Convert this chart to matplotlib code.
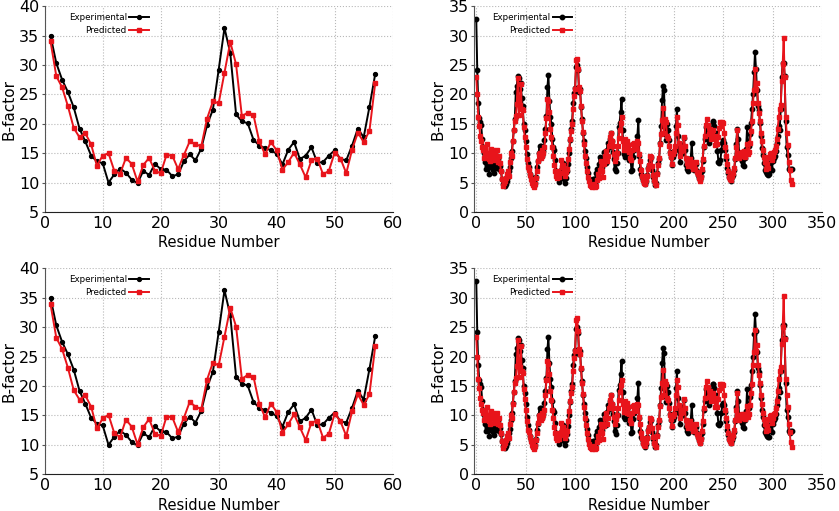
import numpy as np
import matplotlib
matplotlib.use('Agg')
import matplotlib.pyplot as plt

# small protein (57 residues)
res_small = list(range(1, 58))
exp_small = [35.0, 30.3, 27.5, 25.4, 22.8, 19.2, 17.0, 14.6, 13.6, 13.3,
             10.0, 11.4, 12.4, 11.7, 10.5, 9.9, 12.0, 11.3, 13.2, 12.3,
             12.2, 11.1, 11.4, 13.6, 14.8, 13.8, 15.8, 19.8, 22.4, 29.2,
             36.3, 32.0, 21.6, 20.4, 20.1, 17.3, 16.3, 15.9, 15.5, 14.9,
             13.1, 15.6, 16.9, 14.0, 14.6, 16.0, 13.4, 13.5, 14.6, 15.5,
             14.0, 13.8, 16.3, 19.2, 17.7, 22.9, 28.5]
pred_small_top = [34.0, 28.1, 26.2, 23.0, 19.3, 17.7, 18.4, 16.5, 12.9, 14.6,
                  15.0, 12.0, 11.5, 14.2, 13.2, 10.2, 13.0, 14.2, 12.0, 11.6,
                  14.7, 14.6, 12.3, 14.7, 17.0, 16.5, 16.2, 20.9, 23.8, 23.5,
                  28.7, 33.9, 30.1, 21.3, 21.9, 21.5, 17.0, 14.8, 16.9, 15.5,
                  12.2, 13.5, 15.1, 13.1, 10.9, 13.8, 14.1, 11.4, 12.0, 15.1,
                  14.1, 11.6, 15.6, 18.5, 16.9, 18.8, 27.0]
pred_small_bot = [33.9, 28.2, 26.3, 23.1, 19.3, 17.7, 18.4, 16.5, 12.8, 14.5,
                  15.1, 12.0, 11.3, 14.3, 13.1, 10.1, 13.0, 14.4, 11.9, 11.5,
                  14.8, 14.7, 12.2, 14.6, 17.3, 16.5, 16.1, 21.1, 24.0, 23.5,
                  28.4, 33.3, 30.1, 21.2, 21.9, 21.6, 17.0, 14.7, 17.0, 15.6,
                  12.1, 13.5, 15.2, 13.0, 10.8, 13.8, 14.1, 11.2, 11.9, 15.3,
                  14.0, 11.5, 15.7, 18.6, 16.8, 18.6, 26.8]

# large protein (residues 0..319)
res_large = list(range(0, 320))
exp_large = [32.8, 24.2, 18.6, 16.0, 15.3, 14.8, 12.5, 11.0, 10.0, 8.5,
             7.4, 7.8, 8.6, 6.5, 7.9, 7.6, 8.3, 7.2, 6.7, 8.1,
             7.5, 8.4, 9.0, 7.3, 7.8, 6.9, 5.6, 4.8, 5.2, 4.4,
             4.8, 5.3, 6.0, 7.0, 7.7, 9.2, 10.4, 12.1, 14.0, 15.9,
             20.4, 21.4, 23.2, 22.8, 21.0, 22.0, 19.4, 18.0, 15.0, 13.9,
             12.0, 9.8, 8.4, 7.6, 6.5, 5.9, 5.3, 4.7, 4.5, 5.0,
             6.0, 7.6, 8.6, 10.0, 11.3, 11.2, 10.1, 9.5, 10.3, 12.2,
             14.2, 16.3, 21.3, 23.3, 18.9, 16.2, 14.9, 12.5, 11.0, 10.6,
             8.8, 7.0, 6.2, 5.8, 5.1, 5.8, 7.2, 6.3, 8.4, 5.6,
             4.9, 5.8, 6.9, 8.2, 10.0, 12.3, 14.1, 15.4, 18.6, 20.2,
             21.1, 24.7, 25.0, 24.1, 20.4, 21.0, 17.9, 15.8, 13.5, 12.0,
             10.4, 9.2, 7.7, 6.6, 5.6, 5.4, 5.5, 5.5, 5.6, 5.7,
             5.0, 6.6, 7.4, 6.4, 8.1, 9.3, 9.0, 7.6, 8.6, 10.2,
             9.1, 8.4, 10.6, 11.8, 11.1, 12.4, 13.4, 12.0, 10.2, 9.0,
             7.3, 6.9, 8.4, 10.1, 14.4, 15.2, 17.0, 19.2, 14.0, 9.8,
             9.4, 10.3, 11.8, 10.9, 9.9, 8.8, 9.3, 7.0, 7.2, 9.4,
             10.5, 11.0, 11.4, 13.0, 15.6, 9.5, 7.3, 6.4, 6.0, 5.4,
             5.0, 4.7, 5.2, 6.3, 7.5, 8.0, 8.9, 9.3, 7.2, 6.0,
             5.3, 4.6, 4.9, 6.6, 8.4, 9.1, 11.8, 14.6, 19.0, 21.5,
             20.7, 13.3, 12.3, 15.0, 14.0, 12.2, 10.2, 9.3, 8.0, 9.3,
             9.8, 10.6, 14.7, 17.5, 13.0, 10.5, 8.5, 9.9, 11.4, 10.2,
             12.6, 10.5, 8.0, 7.3, 7.0, 8.6, 8.1, 9.2, 11.7, 8.4,
             7.2, 7.3, 8.1, 7.0, 6.3, 5.8, 5.4, 6.2, 7.0, 8.6,
             11.0, 12.5, 14.5, 13.8, 12.5, 11.8, 13.5, 14.2, 13.0, 15.3,
             15.4, 14.6, 13.2, 13.4, 10.4, 8.5, 8.3, 8.8, 10.5, 11.8,
             12.2, 11.7, 10.6, 9.0, 7.5, 6.7, 6.0, 5.6, 5.3, 5.9,
             6.3, 7.2, 9.1, 11.5, 14.2, 12.5, 10.0, 9.2, 9.8, 8.7,
             8.0, 7.8, 9.2, 10.8, 14.5, 10.2, 11.3, 13.2, 15.2, 17.6,
             20.0, 23.8, 27.2, 24.3, 20.8, 18.0, 17.4, 15.1, 13.0, 10.9,
             9.7, 8.4, 7.2, 6.8, 6.5, 6.3, 6.4, 7.7, 8.5, 7.2,
             8.6, 9.2, 9.6, 10.3, 11.7, 13.0, 14.6, 14.0, 17.5, 22.9,
             25.4, 25.3, 23.2, 15.5, 11.0, 9.7, 7.4, 7.1, 7.3, 7.4]
pred_large_top = [22.9, 20.0, 16.2, 14.6, 13.0, 12.0, 11.0, 10.5, 9.2, 11.0,
                  9.8, 11.5, 10.0, 9.0, 8.6, 10.8, 9.5, 10.5, 8.8, 10.2,
                  9.4, 10.5, 8.5, 9.6, 8.3, 7.0, 5.6, 4.4, 5.0, 5.3,
                  5.8, 6.5, 7.0, 6.2, 8.5, 10.0, 9.5, 12.0, 14.0, 15.5,
                  16.3, 18.4, 22.8, 16.5, 18.2, 21.8, 17.6, 17.3, 14.5, 12.8,
                  11.0, 9.0, 7.6, 7.2, 6.3, 5.6, 5.0, 4.6, 4.3, 4.8,
                  5.8, 7.0, 8.7, 9.9, 10.0, 9.2, 10.5, 9.6, 10.1, 11.0,
                  13.5, 16.0, 19.2, 18.8, 17.0, 14.2, 12.7, 11.0, 9.6, 8.0,
                  7.0, 6.2, 5.8, 7.0, 6.0, 6.6, 8.8, 7.6, 8.0, 6.8,
                  6.2, 6.8, 7.4, 9.0, 10.8, 12.4, 13.8, 14.9, 17.6, 19.8,
                  21.0, 25.8, 26.0, 24.3, 21.3, 20.5, 18.0, 15.5, 13.6, 11.5,
                  9.5, 8.3, 7.0, 6.0, 5.2, 4.6, 4.5, 4.3, 4.4, 4.8,
                  4.3, 4.5, 5.5, 6.5, 5.8, 7.2, 8.6, 7.0, 6.0, 8.2,
                  9.5, 10.4, 8.6, 9.6, 11.3, 12.7, 13.4, 12.0, 11.2, 9.8,
                  8.6, 9.4, 10.0, 11.2, 12.6, 14.0, 15.2, 16.1, 12.0, 10.6,
                  12.5, 11.6, 10.5, 12.1, 11.4, 10.2, 9.2, 8.8, 10.5, 11.6,
                  11.8, 10.7, 11.3, 12.0, 11.8, 9.8, 8.6, 7.1, 6.2, 5.4,
                  5.0, 4.8, 5.5, 6.2, 7.4, 8.0, 9.5, 9.4, 7.8, 6.3,
                  5.4, 4.9, 4.6, 6.5, 8.0, 9.2, 11.6, 13.2, 15.6, 17.7,
                  13.5, 15.8, 15.3, 13.0, 12.6, 11.3, 10.1, 9.4, 8.2, 9.9,
                  10.3, 11.2, 13.5, 16.1, 14.8, 11.8, 9.6, 10.4, 11.0, 10.6,
                  12.8, 11.2, 9.2, 8.3, 7.8, 8.0, 9.0, 8.1, 8.5, 7.3,
                  8.0, 7.4, 8.5, 6.8, 6.4, 5.8, 5.3, 6.0, 7.3, 9.0,
                  11.2, 13.0, 14.8, 15.8, 14.8, 13.2, 14.2, 12.5, 13.6, 12.8,
                  13.9, 12.8, 11.4, 13.0, 11.5, 12.8, 14.3, 15.3, 14.6, 15.3,
                  15.2, 13.5, 11.0, 9.5, 8.2, 7.0, 6.0, 5.6, 5.4, 6.2,
                  6.6, 7.5, 9.2, 11.0, 13.9, 10.1, 9.2, 10.0, 9.5, 10.2,
                  9.6, 10.3, 9.4, 10.1, 11.6, 9.8, 10.2, 11.8, 13.8, 15.4,
                  18.6, 20.8, 24.4, 21.0, 22.0, 18.6, 16.8, 15.5, 13.5, 12.0,
                  10.5, 9.4, 8.5, 7.4, 8.2, 7.5, 9.4, 9.9, 10.0, 8.8,
                  9.5, 10.2, 10.5, 11.3, 12.5, 14.2, 16.2, 17.6, 18.2, 22.2,
                  25.1, 29.5, 23.0, 16.2, 13.5, 11.4, 8.5, 7.2, 5.5, 4.7]
# bottom-right prediction differs from top-right only at a few residues
pred_large_bot_changes = {0: 23.3, 101: 26.2, 102: 26.5, 282: 24.5, 311: 30.3}

pred_large_bot = list(pred_large_top)
for k, v in pred_large_bot_changes.items():
    pred_large_bot[k] = v

plt.rcParams['font.family'] = ['DejaVu Sans']

fig = plt.figure(figsize=(8.39, 5.11), dpi=100)

left_x, right_x, w = 0.0533, 0.5653, 0.4147
top_y, bot_y, h = 0.585, 0.0718, 0.403

# x0, y0, x, exp, pred, xlim, ylim, xstep, legend anchor x, marker size
panels = [
    (left_x, top_y, res_small, exp_small, pred_small_top, (0, 60), (5, 40), 10, 0.309, 2.8),
    (right_x, top_y, res_large, exp_large, pred_large_top, (-2, 350), (0, 35), 50, 0.291, 3.2),
    (left_x, bot_y, res_small, exp_small, pred_small_bot, (0, 60), (5, 40), 10, 0.309, 2.8),
    (right_x, bot_y, res_large, exp_large, pred_large_bot, (-2, 350), (0, 35), 50, 0.291, 3.2),
]

for x0, y0, xs, ex, pr, xl, yl, xstep, lx, ms in panels:
    ax = fig.add_axes([x0, y0, w, h])
    ax.plot(xs, ex, color='black', lw=1.4, marker='o', ms=ms, label='Experimental')
    ax.plot(xs, pr, color='#e8141b', lw=1.4, marker='s', ms=ms, label='Predicted')
    ax.set_xlim(*xl)
    ax.set_ylim(*yl)
    ax.set_xticks(np.arange(0, xl[1] + 1, xstep))
    ax.set_yticks(np.arange(yl[0], yl[1] + 1, 5))
    ax.grid(True, ls=':', color='#b8b8b8', lw=0.8)
    ax.set_axisbelow(True)
    for s in ['top', 'right']:
        ax.spines[s].set_visible(False)
    ax.spines['left'].set_color('#555555')
    ax.spines['bottom'].set_color('#222222')
    ax.tick_params(axis='x', labelsize=11.5, length=0, pad=3)
    ax.tick_params(axis='y', labelsize=11.5, length=2, width=0.8, color='#555555', pad=2)
    ax.set_xlabel('Residue Number', fontsize=10.5, labelpad=3)
    ax.set_ylabel('B-factor', fontsize=11, labelpad=2)
    ax.legend(loc='upper right', bbox_to_anchor=(lx, 0.985), frameon=False,
              markerfirst=False, fontsize=6.3, handlelength=2.2, handletextpad=0.3,
              labelspacing=0.45, borderaxespad=0)

fig.savefig('out.png', dpi=100)
